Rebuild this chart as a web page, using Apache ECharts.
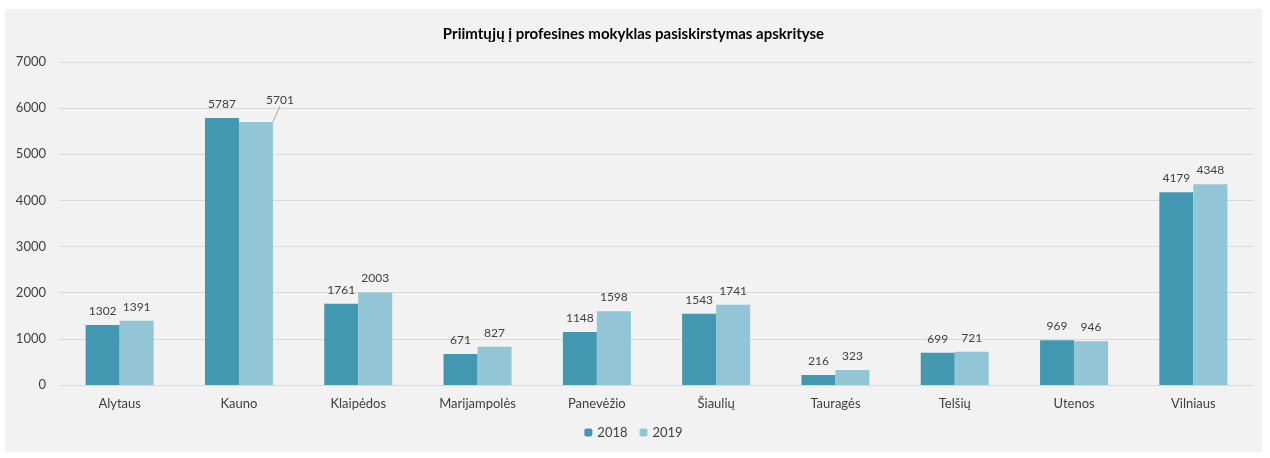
<!DOCTYPE html>
<html>
<head>
<meta charset="utf-8">
<script src="https://cdn.jsdelivr.net/npm/echarts@6/dist/echarts.min.js"></script>
<style>
  html, body { margin: 0; padding: 0; background: #ffffff; }
  #wrap { position: absolute; left: 5px; top: 9px; width: 1257px; height: 443px; background: #f2f2f2; }
  #chart { width: 1257px; height: 443px; }
</style>
</head>
<body>
<div id="wrap"><div id="chart"></div></div>
<script>
// apskritys
var regions = ["Alytaus", "Kauno", "Klaipėdos", "Marijampolės", "Panevėžio", "Šiaulių", "Tauragės", "Telšių", "Utenos", "Vilniaus"];
var y2018 = [1302, 5787, 1761, 671, 1148, 1543, 216, 699, 969, 4179];
var y2019 = [1391, 5701, 2003, 827, 1598, 1741, 323, 721, 946, 4348];
var yTicks = [0, 1000, 2000, 3000, 4000, 5000, 6000, 7000];

var chart = echarts.init(document.getElementById("chart"));
var fontF = "Lato, 'Liberation Sans', sans-serif";

// only Kauno 2019 label is moved, with a leader line
var data2019 = y2019.map(function (v, i) {
  if (i === 1) {
    return { value: v, labelLine: { show: true } };
  }
  return v;
});

chart.setOption({
  backgroundColor: "#f2f2f2",
  textStyle: { fontFamily: fontF },
  title: {
    text: "Priimtųjų į profesines mokyklas pasiskirstymas apskrityse",
    left: "center",
    top: 13,
    textStyle: { fontSize: 15, fontWeight: "bold", color: "#000000", fontFamily: fontF }
  },
  legend: {
    data: ["2018", "2019"],
    bottom: 8,
    left: "center",
    itemWidth: 8,
    itemHeight: 8,
    itemGap: 12,
    textStyle: { fontSize: 13, color: "#404040", fontFamily: fontF }
  },
  grid: { left: 55, right: 9, top: 53, bottom: 67 },
  xAxis: {
    type: "category",
    data: regions,
    axisTick: { show: false },
    axisLine: { lineStyle: { color: "#d9d9d9" } },
    axisLabel: { fontSize: 13, color: "#404040", margin: 12, fontFamily: fontF }
  },
  yAxis: {
    type: "value",
    min: yTicks[0],
    max: yTicks[yTicks.length - 1],
    interval: 1000,
    axisLabel: {
      fontSize: 13, color: "#404040", margin: 14, fontFamily: fontF,
      formatter: function (v) { return String(v); }
    },
    splitLine: { lineStyle: { color: "#d9d9d9" } }
  },
  series: [
    {
      name: "2018",
      type: "bar",
      data: y2018,
      barGap: "0%",
      barCategoryGap: "43%",
      itemStyle: { color: "#4198b0" },
      label: { show: true, position: "top", distance: 8, fontSize: 12, color: "#404040", fontFamily: fontF }
    },
    {
      name: "2019",
      type: "bar",
      data: data2019,
      itemStyle: { color: "#92c5d6" },
      label: { show: true, position: "top", distance: 8, fontSize: 12, color: "#404040", fontFamily: fontF },
      labelLine: { show: false, lineStyle: { color: "#a6a6a6", width: 1 } },
      labelLayout: function (params) {
        if (params.dataIndex === 1) {
          return { dx: 24, dy: -8 };
        }
        return {};
      }
    }
  ]
});
</script>
</body>
</html>
